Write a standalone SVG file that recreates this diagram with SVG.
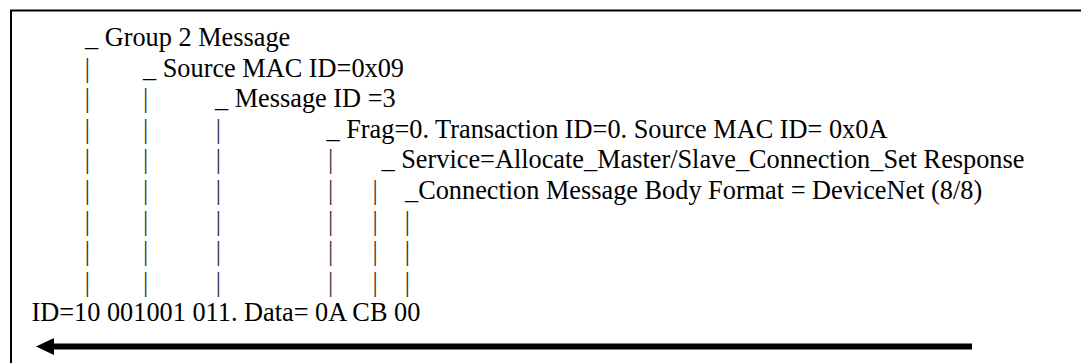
<svg xmlns="http://www.w3.org/2000/svg" width="1081" height="363" viewBox="0 0 1081 363">
<style>
.t{font-family:'Liberation Serif','Times New Roman',Times,serif;font-size:26.3px;fill:#000}
.p{fill:#333}
.frame{fill:none;stroke:#000;stroke-width:2}
</style>
<rect width="1081" height="363" fill="#fff"/>
<path class="frame" d="M11,363 V10.5 H1081"/>
<g font-family="Liberation Serif, Times New Roman, serif" font-size="26.3">
<g id="label-group2"><text class="t" x="85" y="46">_ Group 2 Message</text></g>
<g id="label-source"><text class="t" x="143" y="76.6">_ Source MAC ID=0x09</text></g>
<g id="label-msgid"><text class="t" x="215" y="107.2">_ Message ID =3</text></g>
<g id="label-frag"><text class="t" x="326.5" y="137.8">_ Frag=0. Transaction ID=0. Source MAC ID= 0x0A</text></g>
<g id="label-service"><text class="t" x="381.5" y="168.4">_ Service=Allocate_Master/Slave_Connection_Set Response</text></g>
<g id="label-conn"><text class="t" x="405" y="199">_Connection Message Body Format = DeviceNet (8/8)</text></g>
<g id="pipes">
<text class="t p" x="84.7" y="76.6">|</text>
<text class="t p" x="84.7" y="107.2">|</text><text class="t p" x="143.1" y="107.2">|</text>
<text class="t p" x="84.7" y="137.8">|</text><text class="t p" x="143.1" y="137.8">|</text><text class="t p" x="215.7" y="137.8">|</text>
<text class="t p" x="84.7" y="168.4">|</text><text class="t p" x="143.1" y="168.4">|</text><text class="t p" x="215.7" y="168.4">|</text><text class="t p" x="328" y="168.4">|</text>
<text class="t p" x="84.7" y="199">|</text><text class="t p" x="143.1" y="199">|</text><text class="t p" x="215.7" y="199">|</text><text class="t p" x="328" y="199">|</text><text class="t p" x="372.4" y="199">|</text>
<text class="t p" x="84.7" y="229.6">|</text><text class="t p" x="143.1" y="229.6">|</text><text class="t p" x="215.7" y="229.6">|</text><text class="t p" x="328" y="229.6">|</text><text class="t p" x="372.4" y="229.6">|</text><text class="t p" x="404.7" y="229.6">|</text>
<text class="t p" x="84.7" y="260.2">|</text><text class="t p" x="143.1" y="260.2">|</text><text class="t p" x="215.7" y="260.2">|</text><text class="t p" x="328" y="260.2">|</text><text class="t p" x="372.4" y="260.2">|</text><text class="t p" x="404.7" y="260.2">|</text>
<text class="t p" x="84.7" y="290.8">|</text><text class="t p" x="143.1" y="290.8">|</text><text class="t p" x="215.7" y="290.8">|</text><text class="t p" x="328" y="290.8">|</text><text class="t p" x="372.4" y="290.8">|</text><text class="t p" x="404.7" y="290.8">|</text>
</g>
<g id="label-id"><text class="t" x="31.5" y="321.4">ID=10 001001 011. Data= 0A CB 00</text></g>
</g>
<g id="connectors">
<line x1="972" y1="346.5" x2="53" y2="346.5" stroke="#000" stroke-width="6"/>
<path d="M36,346.5 L54,338 L54,355 z" fill="#000"/>
</g>
</svg>
